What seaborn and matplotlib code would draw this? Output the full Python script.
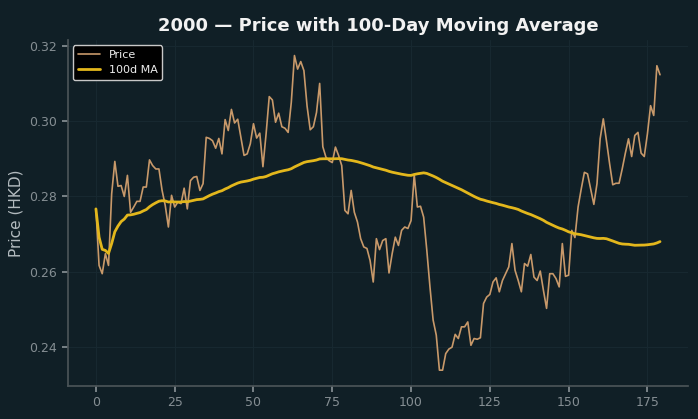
import pandas as pd
import numpy as np
import seaborn as sns
import matplotlib.pyplot as plt

# Daily closing price (day 0..179)
price = [
    0.2767, 0.2617, 0.2595, 0.2648, 0.2617, 0.2807, 0.2893, 0.2827, 0.2829, 0.2800,
    0.2856, 0.2758, 0.2772, 0.2787, 0.2787, 0.2825, 0.2825, 0.2897, 0.2882, 0.2873,
    0.2873, 0.2816, 0.2776, 0.2719, 0.2803, 0.2772, 0.2785, 0.2781, 0.2822, 0.2767,
    0.2842, 0.2851, 0.2853, 0.2816, 0.2834, 0.2957, 0.2954, 0.2948, 0.2928, 0.2954,
    0.2913, 0.3004, 0.2975, 0.3031, 0.2995, 0.3005, 0.2957, 0.2909, 0.2913, 0.2940,
    0.2993, 0.2955, 0.2968, 0.2879, 0.2966, 0.3065, 0.3056, 0.2997, 0.3021, 0.2985,
    0.2981, 0.2970, 0.3050, 0.3174, 0.3138, 0.3158, 0.3134, 0.3040, 0.2977, 0.2985,
    0.3023, 0.3100, 0.2932, 0.2904, 0.2895, 0.2890, 0.2931, 0.2909, 0.2882, 0.2763,
    0.2754, 0.2816, 0.2758, 0.2732, 0.2688, 0.2666, 0.2662, 0.2630, 0.2573, 0.2688,
    0.2659, 0.2683, 0.2688, 0.2597, 0.2648, 0.2692, 0.2670, 0.2710, 0.2719, 0.2715,
    0.2736, 0.2858, 0.2772, 0.2774, 0.2745, 0.2657, 0.2560, 0.2472, 0.2432, 0.2339,
    0.2339, 0.2383, 0.2395, 0.2400, 0.2434, 0.2423, 0.2454, 0.2454, 0.2467, 0.2405,
    0.2423, 0.2421, 0.2425, 0.2516, 0.2533, 0.2540, 0.2573, 0.2584, 0.2547, 0.2577,
    0.2595, 0.2613, 0.2675, 0.2604, 0.2577, 0.2547, 0.2622, 0.2615, 0.2646, 0.2586,
    0.2577, 0.2602, 0.2551, 0.2503, 0.2595, 0.2595, 0.2582, 0.2560, 0.2675, 0.2588,
    0.2591, 0.2710, 0.2691, 0.2772, 0.2820, 0.2864, 0.2860, 0.2820, 0.2779, 0.2834,
    0.2953, 0.3006, 0.2948, 0.2887, 0.2831, 0.2835, 0.2835, 0.2873, 0.2915, 0.2953,
    0.2906, 0.2962, 0.2970, 0.2915, 0.2906, 0.2966, 0.3041, 0.3015, 0.3147, 0.3123,
]
ma_window = 100
ticker = "2000"

df = pd.DataFrame({"day": np.arange(len(price)), "price": price})
df["ma"] = df["price"].rolling(ma_window, min_periods=1).mean()

bg = "#101f26"
sns.set_theme(style="dark")
plt.rcParams["font.family"] = ["DejaVu Sans"]

fig, ax = plt.subplots(figsize=(6.98, 4.19), dpi=100)
fig.patch.set_facecolor(bg)
ax.set_facecolor(bg)

sns.lineplot(data=df, x="day", y="price", ax=ax, color="#c8996a",
             linewidth=1.2, label="Price")
sns.lineplot(data=df, x="day", y="ma", ax=ax, color="#e3b71c",
             linewidth=2.0, label=f"{ma_window}d MA")

ax.grid(True, color="#172830", linewidth=0.8)
for side in ["top", "right"]:
    ax.spines[side].set_visible(False)
for side in ["left", "bottom"]:
    ax.spines[side].set_color("#4a5357")
ax.tick_params(colors="#858e93", labelsize=9, length=4, bottom=True, left=True)
ax.set_xlabel("")
ax.set_ylabel("Price (HKD)", color="#b3bbbf", fontsize=11)
ax.set_title(f"{ticker} \u2014 Price with {ma_window}-Day Moving Average",
             color="#f2f2f2", fontsize=13, fontweight="bold")
ax.set_yticks([0.24, 0.26, 0.28, 0.30, 0.32])

leg = ax.legend(loc="upper left", facecolor="black", edgecolor="#c8c8c8",
                fontsize=8, framealpha=1.0)
for t in leg.get_texts():
    t.set_color("#eeeeee")

plt.subplots_adjust(left=0.097, right=0.986, top=0.905, bottom=0.079)
plt.savefig("out.png", dpi=100, facecolor=bg)
plt.close()
